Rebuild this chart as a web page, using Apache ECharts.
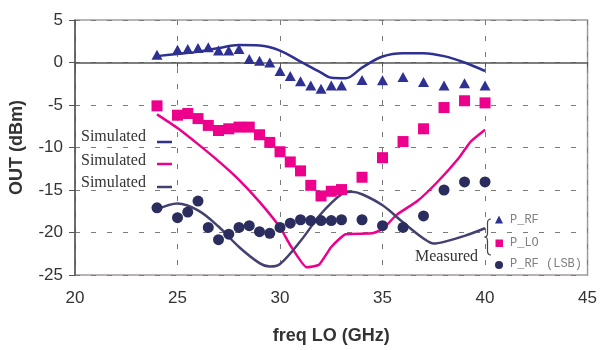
<!DOCTYPE html>
<html>
<head>
<meta charset="utf-8">
<script src="https://cdn.jsdelivr.net/npm/echarts@6/dist/echarts.min.js"></script>
<style>
  html, body { margin: 0; padding: 0; background: #fff; }
  #chart { width: 600px; height: 350px; }
</style>
</head>
<body>
<div id="chart"></div>
<script>
// Measured LO sweep points (GHz)
var measFreq = [24, 25, 25.5, 26, 26.5, 27, 27.5, 28, 28.5, 29, 29.5, 30, 30.5, 31, 31.5, 32, 32.5, 33, 34, 35, 36, 37, 38, 39, 40];
var measRf   = [0.9, 1.5, 1.6, 1.7, 1.8, 1.4, 1.4, 1.6, 0.4, 0.2, 0.0, -1.0, -1.6, -2.2, -2.7, -3.1, -2.7, -2.7, -2.05, -2.1, -1.7, -2.3, -2.7, -2.45, -2.7];
var measLo   = [-5.1, -6.2, -6.0, -6.6, -7.4, -8.0, -7.8, -7.6, -7.6, -8.5, -9.4, -10.5, -11.7, -12.75, -14.45, -15.7, -15.15, -14.95, -13.5, -11.2, -9.3, -7.8, -5.3, -4.5, -4.75];
var measLsb  = [-17.1, -18.25, -17.6, -16.3, -19.4, -20.85, -20.2, -19.4, -19.2, -19.9, -20.1, -19.4, -18.9, -18.5, -18.6, -18.6, -18.6, -18.5, -18.5, -19.2, -19.4, -18.05, -15.0, -14.05, -14.05];

// Simulated curves
var simRfFreq  = [24, 25, 26, 27, 28, 29, 30, 31, 32, 32.5, 33.2, 34, 35, 36, 37, 38, 39, 40];
var simRf      = [0.75, 1.0, 1.25, 1.7, 2.05, 2.0, 1.4, 0.1, -1.2, -1.8, -1.85, -0.6, 0.7, 1.1, 1.1, 0.75, 0.0, -1.0];
var simLoFreq  = [24, 25, 26, 27, 28, 29, 30, 30.5, 31.3, 31.9, 32.5, 33.2, 34.5, 35, 35.7, 36.7, 37.7, 38.7, 39.3, 40];
var simLo      = [-6.1, -7.7, -9.6, -11.6, -13.8, -16.4, -19.4, -21.5, -24.1, -23.8, -21.7, -20.2, -20.1, -19.6, -17.9, -16.3, -14.0, -11.3, -9.3, -7.9];
var simLsbFreq = [24, 25, 26, 27, 28, 29, 29.5, 30, 31, 32, 33, 33.5, 34, 35, 36, 37, 37.5, 38, 39, 40];
var simLsb     = [-17.3, -16.6, -17.4, -19.3, -21.7, -23.6, -24.0, -23.7, -21.0, -17.8, -15.5, -15.2, -15.5, -16.8, -18.8, -20.7, -21.3, -21.1, -20.4, -19.5];

var xTicks = [20, 25, 30, 35, 40, 45];
var yTicks = [5, 0, -5, -10, -15, -20, -25];

var BLUE = '#2e3192', PINK = '#ec008c', NAVY = '#2b2d5e', SIMNAVY = '#434170';

function pairs(xs, ys) { return xs.map(function (x, i) { return [x, ys[i]]; }); }

var chart = echarts.init(document.getElementById('chart'), null, { renderer: 'canvas' });

var gridLine = { show: true, lineStyle: { color: '#7a7a7a', type: [5, 11], width: 1 } };
var sans = 'Liberation Sans, Arial, sans-serif';
var serif = 'Liberation Serif, Times New Roman, serif';
var mono = 'Liberation Mono, Courier New, monospace';

function label(text, x, y, font, fill) {
  return { type: 'text', x: x, y: y, style: { text: text, font: font, fill: fill, verticalAlign: 'middle', align: 'left' } };
}

chart.setOption({
  animation: false,
  backgroundColor: '#fff',
  grid: { left: 75, right: 11, top: 20, bottom: 72, show: true, borderColor: '#a39c99', borderWidth: 1.5, backgroundColor: 'transparent' },
  xAxis: {
    type: 'value', min: xTicks[0], max: xTicks[xTicks.length - 1], interval: 5,
    name: 'freq LO (GHz)', nameLocation: 'middle', nameGap: 52,
    nameTextStyle: { fontFamily: sans, fontWeight: 'bold', fontSize: 18, color: '#333' },
    axisLine: { lineStyle: { color: '#555', width: 1.5 } },
    axisTick: { show: true, length: 5, lineStyle: { color: '#555' } },
    axisLabel: { fontFamily: sans, fontSize: 17, color: '#333', margin: 15 },
    splitLine: gridLine
  },
  yAxis: {
    type: 'value', min: yTicks[yTicks.length - 1], max: yTicks[0], interval: 5,
    name: 'OUT (dBm)', nameLocation: 'middle', nameGap: 49, nameRotate: 90,
    nameTextStyle: { fontFamily: sans, fontWeight: 'bold', fontSize: 18, color: '#333' },
    axisLine: { lineStyle: { color: '#555', width: 1.5 } },
    axisTick: { show: true, length: 6, lineStyle: { color: '#555' } },
    axisLabel: { fontFamily: sans, fontSize: 17, color: '#333', margin: 12 },
    splitLine: gridLine
  },
  series: [
    { type: 'line', name: 'Simulated P_RF', data: pairs(simRfFreq, simRf), smooth: 0.35, showSymbol: false,
      lineStyle: { color: BLUE, width: 2.5 }, z: 2 },
    { type: 'line', name: 'Simulated P_LO', data: pairs(simLoFreq, simLo), smooth: 0.15, showSymbol: false,
      lineStyle: { color: PINK, width: 2.5 }, z: 2 },
    { type: 'line', name: 'Simulated P_RF (LSB)', data: pairs(simLsbFreq, simLsb), smooth: 0.35, showSymbol: false,
      lineStyle: { color: SIMNAVY, width: 2.5 }, z: 2 },
    { type: 'scatter', name: 'P_RF', data: pairs(measFreq, measRf), symbol: 'triangle', symbolSize: [11, 10],
      itemStyle: { color: BLUE, opacity: 1 }, z: 3 },
    { type: 'scatter', name: 'P_LO', data: pairs(measFreq, measLo), symbol: 'rect', symbolSize: 11,
      itemStyle: { color: PINK, opacity: 1 }, z: 3 },
    { type: 'scatter', name: 'P_RF (LSB)', data: pairs(measFreq, measLsb), symbol: 'circle', symbolSize: 11,
      itemStyle: { color: NAVY, opacity: 1 }, z: 3 }
  ],
  graphic: [
    // simulated key
    label('Simulated', 81, 137, '16px ' + serif, '#333'),
    label('Simulated', 81, 161, '16px ' + serif, '#333'),
    label('Simulated', 81, 183, '16px ' + serif, '#333'),
    { type: 'line', shape: { x1: 157, y1: 142, x2: 172, y2: 142 }, style: { stroke: BLUE, lineWidth: 2.5 } },
    { type: 'line', shape: { x1: 157, y1: 164, x2: 172, y2: 164 }, style: { stroke: PINK, lineWidth: 2.5 } },
    { type: 'line', shape: { x1: 157, y1: 187, x2: 172, y2: 187 }, style: { stroke: SIMNAVY, lineWidth: 2.5 } },
    // measured key
    { type: 'polygon', shape: { points: [[499, 215.5], [495, 223.5], [503, 223.5]] }, style: { fill: BLUE } },
    { type: 'rect', shape: { x: 495.5, y: 239.5, width: 7.5, height: 7.5 }, style: { fill: PINK } },
    { type: 'circle', shape: { cx: 499, cy: 265, r: 4 }, style: { fill: NAVY } },
    label('P_RF', 510, 220, '12px ' + mono, '#808080'),
    label('P_LO', 510, 243, '12px ' + mono, '#808080'),
    label('P_RF (LSB)', 510, 264, '12px ' + mono, '#808080'),
    label('Measured', 415, 257, '16px ' + serif, '#333'),
    // curly brace grouping the measured key
    { type: 'bezierCurve', shape: { x1: 491, y1: 219, cpx1: 487.5, cpy1: 219, x2: 487.5, y2: 223 }, style: { stroke: '#444', lineWidth: 1.2, fill: null } },
    { type: 'line', shape: { x1: 487.5, y1: 223, x2: 487.5, y2: 233 }, style: { stroke: '#444', lineWidth: 1.2 } },
    { type: 'bezierCurve', shape: { x1: 487.5, y1: 233, cpx1: 487.5, cpy1: 237, x2: 484.5, y2: 237 }, style: { stroke: '#444', lineWidth: 1.2, fill: null } },
    { type: 'bezierCurve', shape: { x1: 484.5, y1: 237, cpx1: 487.5, cpy1: 237, x2: 487.5, y2: 241 }, style: { stroke: '#444', lineWidth: 1.2, fill: null } },
    { type: 'line', shape: { x1: 487.5, y1: 241, x2: 487.5, y2: 251 }, style: { stroke: '#444', lineWidth: 1.2 } },
    { type: 'bezierCurve', shape: { x1: 487.5, y1: 251, cpx1: 487.5, cpy1: 255, x2: 491, y2: 255 }, style: { stroke: '#444', lineWidth: 1.2, fill: null } }
  ]
});
</script>
</body>
</html>
